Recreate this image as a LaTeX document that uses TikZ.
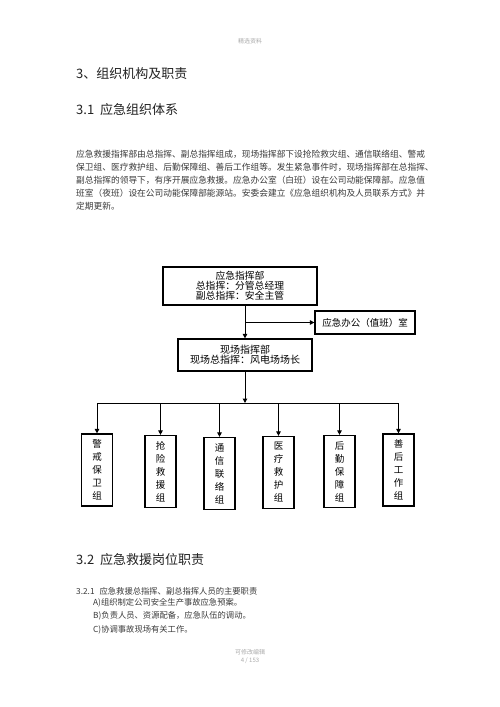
\documentclass[tikz,border=0pt]{standalone}
\usepackage{fontspec}
\setmainfont{Noto Sans CJK SC}
\usetikzlibrary{arrows.meta}
\newcommand\fsz[2]{\fontsize{#1}{#2}\selectfont}
\definecolor{bodytxt}{HTML}{3A3A3A}
\definecolor{headtxt}{HTML}{222222}
\definecolor{faint}{HTML}{AAAAAA}
\begin{document}
\begin{tikzpicture}[x=1pt,y=-1pt,
  txt/.style={inner sep=0pt,anchor=west,text=bodytxt},
  head/.style={inner sep=0pt,anchor=west,text=headtxt},
  note/.style={inner sep=0pt,text=faint},
  box/.style={draw=black,line width=1.2pt,inner sep=0pt,align=center,text=black},
  vbox/.style={box,minimum width=31pt,minimum height=72pt,font=\fsz{9.5}{13}},
  arr/.style={draw=black,line width=1pt,-{Triangle[length=4.5pt,width=4.5pt]}},
  ln/.style={draw=black,line width=1pt}]
\useasboundingbox[fill=white] (0,0) rectangle (500,707);

\node[note,font=\fsz{6}{7}] (hdr) at (250,41) {精选资料};

\node[head,font=\fsz{13}{14}] (h1) at (76,74) {3、组织机构及职责};
\node[head,font=\fsz{13}{14}] (h2) at (76,110) {3.1\hspace{6pt}应急组织体系};

\node[txt,font=\fsz{8.72}{9}] (p1) at (76,154) {应急救援指挥部由总指挥、副总指挥组成，现场指挥部下设抢险救灾组、通信联络组、警戒};
\node[txt,font=\fsz{8.72}{9}] (p2) at (76,167) {保卫组、医疗救护组、后勤保障组、善后工作组等。发生紧急事件时，现场指挥部在总指挥、};
\node[txt,font=\fsz{8.72}{9}] (p3) at (76,180) {副总指挥的领导下，有序开展应急救援。应急办公室（白班）设在公司动能保障部。应急值};
\node[txt,font=\fsz{8.72}{9}] (p4) at (76,193) {班室（夜班）设在公司动能保障部能源站。安委会建立《应急组织机构及人员联系方式》并};
\node[txt,font=\fsz{8.72}{9}] (p5) at (76,206) {定期更新。};

% chart
\node[box,minimum width=154pt,minimum height=38pt,font=\fsz{9.8}{10}] (top) at (240,286)
  {应急指挥部\\总指挥：分管总经理\\副总指挥：安全主管};
\node[box,minimum width=134pt,minimum height=32pt,font=\fsz{10}{10}] (low) at (245,355)
  {现场指挥部\\现场总指挥：风电场场长};
\node[box,minimum width=100pt,minimum height=23pt,font=\fsz{9.5}{10}] (off) at (365,322.5)
  {应急办公（值班）室};

\draw[arr] (top.south -| low.north) -- (low.north);
\coordinate (br) at (low.north |- off.west);
\draw[arr] (br) -- (off.west);

\node[vbox] (g1) at (97,470) {警\\戒\\保\\卫\\组};
\node[vbox] (g2) at (160.5,471.5) {抢\\险\\救\\援\\组};
\node[vbox] (g3) at (219.5,473.5) {通\\信\\联\\络\\组};
\node[vbox] (g4) at (278.5,472.5) {医\\疗\\救\\护\\组};
\node[vbox] (g5) at (339.5,471.5) {后\\勤\\保\\障\\组};
\node[vbox] (g6) at (398.5,470) {善\\后\\工\\作\\组};

\coordinate (bus) at (245,403);
\draw[arr] (low.south) -- (bus);
\draw[ln] (g1.north |- bus) -- (g6.north |- bus);
\foreach \g in {g1,g2,g3,g4,g5,g6}{
  \draw[arr] (\g.north |- bus) -- (\g.north);
}

\node[head,font=\fsz{13}{14}] (h3) at (76,560) {3.2\hspace{6pt}应急救援岗位职责};
\node[txt,font=\fsz{8.3}{9}] (s1) at (76,591) {3.2.1\hspace{5pt}应急救援总指挥、副总指挥人员的主要职责};
\node[txt,font=\fsz{8.3}{9}] (sa) at (93,603) {A)组织制定公司安全生产事故应急预案。};
\node[txt,font=\fsz{8.3}{9}] (sb) at (93,616) {B)负责人员、资源配备，应急队伍的调动。};
\node[txt,font=\fsz{8.3}{9}] (sc) at (93,630) {C)协调事故现场有关工作。};

\node[note,font=\fsz{6}{7}] (ft1) at (250,652) {可修改编辑};
\node[note,font=\fsz{6}{7}] (ft2) at (250,661) {4 / 153};
\end{tikzpicture}
\end{document}
